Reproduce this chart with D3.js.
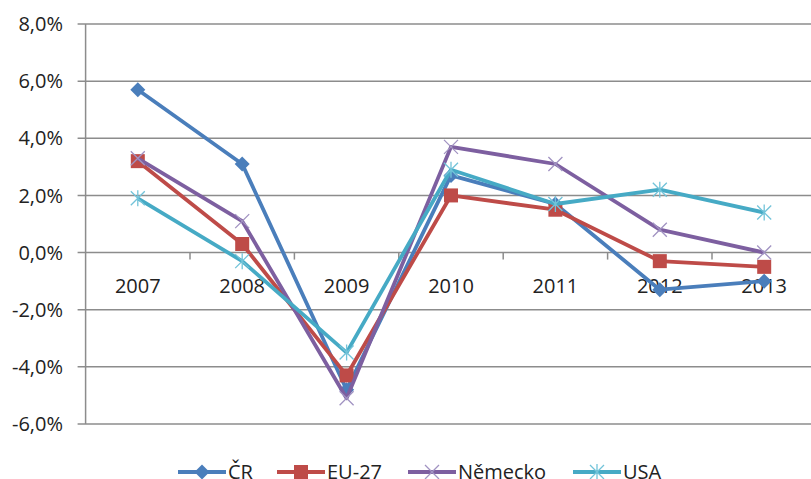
<!DOCTYPE html>
<html>
<head>
<meta charset="utf-8">
<script src="https://cdn.jsdelivr.net/npm/d3@7"></script>
<style>
  body { margin: 0; background: #fff; }
  svg { display: block; font-family: "Open Sans", "Noto Sans", sans-serif; }
</style>
</head>
<body>
<svg width="811" height="479"></svg>
<script>
// data
var years = ["2007", "2008", "2009", "2010", "2011", "2012", "2013"];
var cr = [5.7, 3.1, -4.8, 2.7, 1.7, -1.3, -1.0];
var eu27 = [3.2, 0.3, -4.3, 2.0, 1.5, -0.3, -0.5];
var nemecko = [3.3, 1.1, -5.1, 3.7, 3.1, 0.8, 0.0];
var usa = [1.9, -0.3, -3.5, 2.9, 1.7, 2.2, 1.4];
var yTicks = [-6, -4, -2, 0, 2, 4, 6, 8];

var series = [
  { name: "ČR", values: cr, color: "#4A7EBB", marker: "diamond" },
  { name: "EU-27", values: eu27, color: "#BE4B48", marker: "square" },
  { name: "Německo", values: nemecko, color: "#7D5FA0", marker: "x" },
  { name: "USA", values: usa, color: "#46AAC5", marker: "star" }
];

var svg = d3.select("svg");
var plotLeft = 85.6, plotRight = 816.4, plotTop = 24, plotBottom = 424;

var x = d3.scaleBand().domain(years).range([plotLeft, plotRight]);
var y = d3.scaleLinear().domain([-6, 8]).range([plotBottom, plotTop]);
var fmt = function(v) { return v.toFixed(1).replace(".", ",") + "%"; };
var cx = function(i) { return x(years[i]) + x.bandwidth() / 2; };

// gridlines
svg.append("g")
  .selectAll("line")
  .data(yTicks)
  .enter().append("line")
  .attr("x1", plotLeft - 8).attr("x2", 811)
  .attr("y1", function(d) { return y(d); })
  .attr("y2", function(d) { return y(d); })
  .attr("stroke", "#8c8c8c")
  .attr("stroke-width", 1.5);

// y axis line
svg.append("line")
  .attr("x1", plotLeft).attr("x2", plotLeft)
  .attr("y1", plotTop).attr("y2", plotBottom)
  .attr("stroke", "#8c8c8c")
  .attr("stroke-width", 1.5);

svg.append("g")
  .selectAll("text")
  .data(yTicks)
  .enter().append("text")
  .attr("x", 63)
  .attr("y", function(d) { return y(d); })
  .attr("dy", "0.36em")
  .attr("text-anchor", "end")
  .attr("font-size", 20)
  .attr("fill", "#222")
  .text(fmt);

// x axis ticks on zero line
var bounds = years.slice(1).map(function(d) { return x(d); });
svg.append("g")
  .selectAll("line")
  .data(bounds)
  .enter().append("line")
  .attr("x1", function(d) { return d; })
  .attr("x2", function(d) { return d; })
  .attr("y1", y(0)).attr("y2", y(0) + 7)
  .attr("stroke", "#8c8c8c")
  .attr("stroke-width", 1.5);

svg.append("g")
  .selectAll("text")
  .data(years)
  .enter().append("text")
  .attr("x", function(d, i) { return cx(i); })
  .attr("y", y(0) + 40)
  .attr("text-anchor", "middle")
  .attr("font-size", 20)
  .attr("fill", "#222")
  .text(function(d) { return d; });

// markers
function drawMarker(g, type, color, px, py) {
  if (type === "diamond") {
    var d = 7.5;
    g.append("path")
      .attr("d", "M" + px + "," + (py - d) + "L" + (px + d) + "," + py +
        "L" + px + "," + (py + d) + "L" + (px - d) + "," + py + "Z")
      .attr("fill", color);
    return;
  }
  if (type === "square") {
    g.append("rect")
      .attr("x", px - 7).attr("y", py - 7)
      .attr("width", 14).attr("height", 14)
      .attr("fill", color);
    return;
  }
  var r = 7;
  var mc = type === "x" ? "#a193c2" : "#72c3d9";
  g.append("path")
    .attr("d", "M" + (px - r) + "," + (py - r) + "L" + (px + r) + "," + (py + r) +
      "M" + (px - r) + "," + (py + r) + "L" + (px + r) + "," + (py - r) +
      (type === "star" ? "M" + px + "," + (py - r - 1) + "L" + px + "," + (py + r + 1) : ""))
    .attr("stroke", mc)
    .attr("stroke-width", 1.3)
    .attr("fill", "none");
}

var line = d3.line()
  .x(function(d, i) { return cx(i); })
  .y(function(d) { return y(d); });

series.forEach(function(s) {
  var g = svg.append("g");
  g.append("path")
    .attr("d", line(s.values))
    .attr("fill", "none")
    .attr("stroke", s.color)
    .attr("stroke-width", 3.8)
    .attr("stroke-linejoin", "round");
  s.values.forEach(function(v, i) {
    drawMarker(g, s.marker, s.color, cx(i), y(v));
  });
});

// legend
var legendX = [178, 277, 408, 573];
series.forEach(function(s, i) {
  var g = svg.append("g");
  var lx = legendX[i], ly = 472;
  g.append("line")
    .attr("x1", lx).attr("x2", lx + 48)
    .attr("y1", ly).attr("y2", ly)
    .attr("stroke", s.color)
    .attr("stroke-width", 3.8);
  drawMarker(g, s.marker, s.color, lx + 24, ly);
  g.append("text")
    .attr("x", lx + 50)
    .attr("y", 479)
    .attr("font-size", 20)
    .attr("fill", "#222")
    .text(s.name);
});
</script>
</body>
</html>
